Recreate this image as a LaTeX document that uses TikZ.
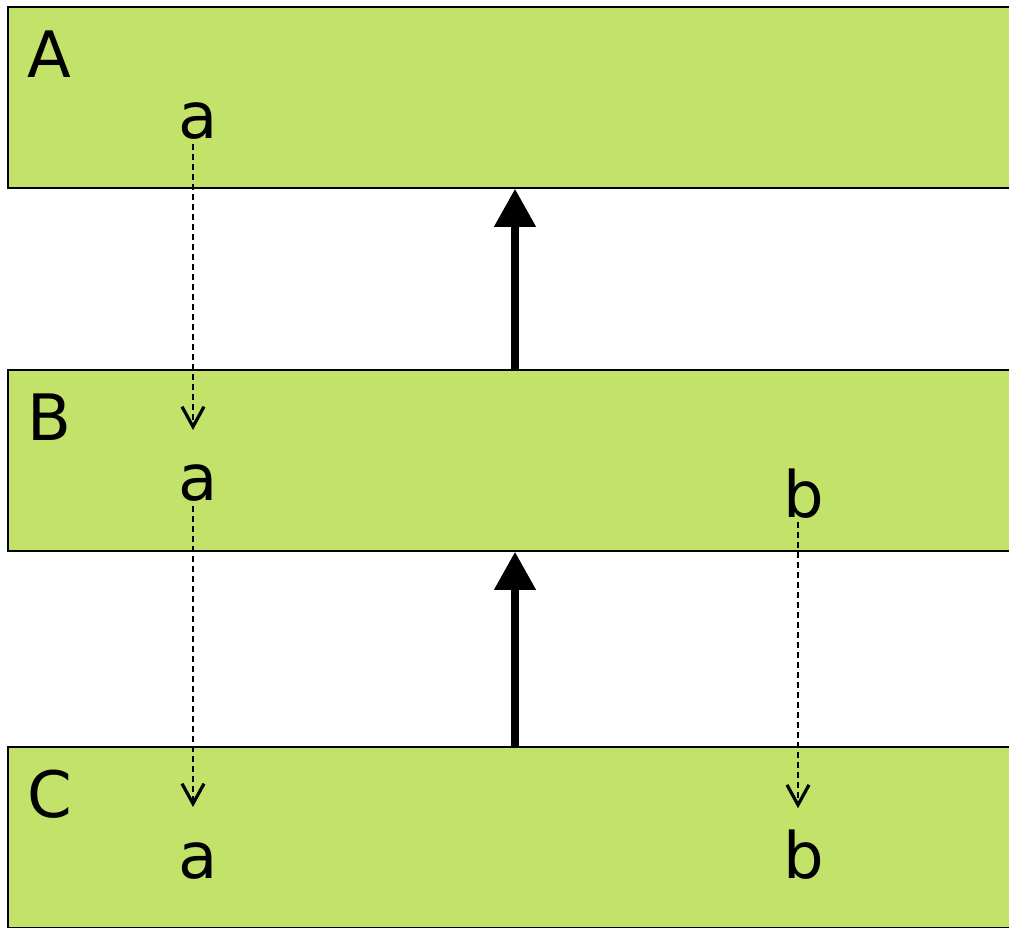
\documentclass[tikz,border=0pt]{standalone}
\usepackage{fontspec}
\setmainfont{DejaVu Sans}
\usepackage{tikz}
\usetikzlibrary{arrows.meta,positioning}
\definecolor{layerGreen}{RGB}{195,226,106}

\begin{document}
\begin{tikzpicture}[x=1pt,y=-1pt,
  layer/.style={draw=black,fill=layerGreen,line width=1.6pt,minimum width=1014pt,minimum height=181pt,inner sep=0pt},
  tag/.style={font=\fontsize{64}{72}\selectfont,inner sep=0pt,anchor=base west},
  sym/.style={font=\fontsize{64}{72}\selectfont,inner sep=0pt,anchor=base},
  flow/.style={line width=7.5pt,-{Triangle[width=40pt,length=38pt]}},
  dep/.style={line width=1.5pt,dash pattern=on 6pt off 4pt,-{Straight Barb[length=20pt,width=22pt,line width'=3.2pt,line join=miter,line cap=butt]}}]
\clip (0,0) rectangle (1009,927);
% layers
\node[layer] (layerA) at (515,97.5) {};
\node[layer] (layerB) at (515,460.5) {};
\node[layer] (layerC) at (515,837.5) {};
\node[tag] (tagA) at (27,77) {A};
\node[tag] (tagB) at (27,440) {B};
\node[tag] (tagC) at (27,817) {C};
% symbols
\node[sym] (aA) at (198,138) {a};
\node[sym] (aB) at (198,500) {a};
\node[sym] (bB) at (804,517) {b};
\node[sym] (aC) at (198,878) {a};
\node[sym] (bC) at (804,878) {b};
% layer flow
\draw[flow] (layerB.north) -- (layerA.south);
\draw[flow] (layerC.north) -- (layerB.south);
% dependencies
\draw[dep,shorten <=5pt,shorten >=34pt] ([xshift=-5pt]aA.south) -- ([xshift=-5pt]aB.north);
\draw[dep,shorten <=5pt,shorten >=35pt] ([xshift=-5pt]aB.south) -- ([xshift=-5pt]aC.north);
\draw[dep,shorten <=4pt,shorten >=21pt] ([xshift=-6pt]bB.south) -- ([xshift=-6pt]bC.north);
\end{tikzpicture}
\end{document}
